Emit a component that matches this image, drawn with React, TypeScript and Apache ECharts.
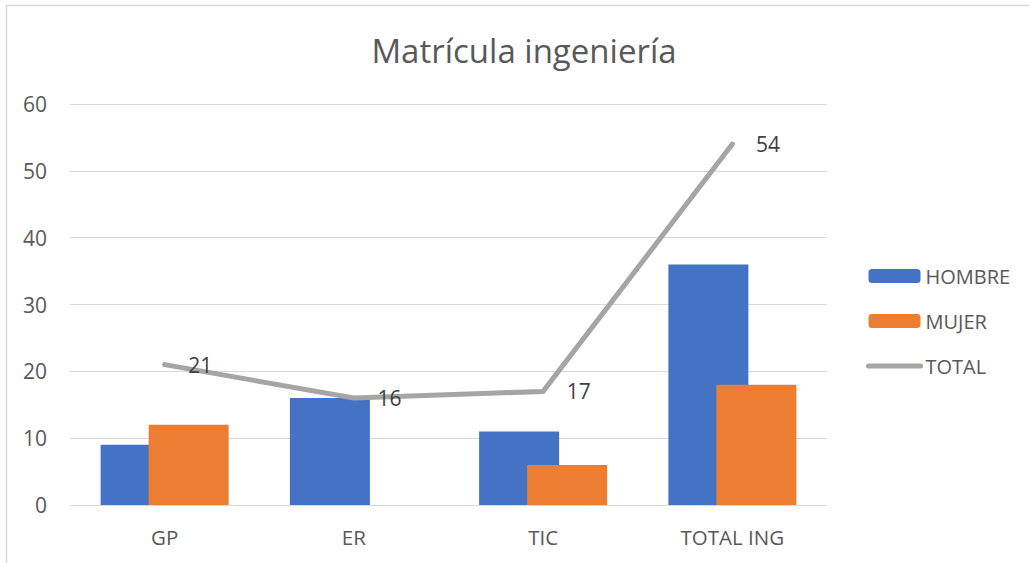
import React, { useEffect, useRef } from "react";
import * as echarts from "echarts";

const categories = ["GP", "ER", "TIC", "TOTAL ING"];
const hombre = [9, 16, 11, 36];
const mujer = [12, 0, 6, 18];
const total = [21, 16, 17, 54];
const yTicks = { min: 0, max: 60, interval: 10 };
const titleText = "Matrícula ingeniería";

const FONT = "'Open Sans', sans-serif";

export default function App() {
  const ref = useRef<HTMLDivElement>(null);
  useEffect(() => {
    const chart = echarts.init(ref.current!, undefined, { renderer: "svg" });
    chart.setOption({
      animation: false,
      backgroundColor: "#ffffff",
      textStyle: { fontFamily: FONT },
      graphic: [
        {
          type: "rect",
          shape: { x: 6.5, y: 5.5, width: 1040, height: 580 },
          style: { fill: "none", stroke: "#d9d9d9", lineWidth: 1.5 },
          silent: true,
        },
        {
          type: "text",
          x: 524,
          y: 50,
          style: {
            text: titleText,
            fontFamily: FONT,
            fontSize: 33,
            fill: "#595959",
            align: "center",
            verticalAlign: "middle",
          },
        },
      ],
      grid: { left: 70, right: 202, top: 104, bottom: 58, containLabel: false },
      legend: {
        orient: "vertical",
        left: 861,
        top: 261,
        itemWidth: 52,
        itemHeight: 14,
        itemGap: 25,
        textStyle: { fontFamily: FONT, fontSize: 20, lineHeight: 20, color: "#595959" },
        data: [
          "HOMBRE",
          "MUJER",
          {
            name: "TOTAL",
            itemStyle: { opacity: 0 },
            lineStyle: { color: "#a5a5a5", width: 5, cap: "round" },
          },
        ],
      },
      xAxis: {
        type: "category",
        data: categories,
        axisLine: { lineStyle: { color: "#d9d9d9" } },
        axisTick: { show: false },
        axisLabel: { fontFamily: FONT, fontSize: 20.5, color: "#595959", margin: 21 },
      },
      yAxis: {
        type: "value",
        min: yTicks.min,
        max: yTicks.max,
        interval: yTicks.interval,
        axisLine: { show: false },
        axisTick: { show: false },
        splitLine: { lineStyle: { color: "#d9d9d9", width: 1 } },
        axisLabel: { fontFamily: FONT, fontSize: 21, color: "#595959", margin: 23 },
      },
      series: [
        {
          name: "HOMBRE",
          type: "bar",
          data: hombre,
          barWidth: 80,
          barGap: "-40%",
          itemStyle: { color: "#4472c4" },
        },
        {
          name: "MUJER",
          type: "bar",
          data: mujer,
          barWidth: 80,
          barGap: "-40%",
          itemStyle: { color: "#ed7d31" },
        },
        {
          name: "TOTAL",
          type: "line",
          data: total,
          symbol: "circle",
          symbolSize: 1,
          showSymbol: true,
          lineStyle: { color: "#a5a5a5", width: 5, cap: "round", join: "round" },
          itemStyle: { color: "rgba(165,165,165,0)" },
          label: {
            show: true,
            position: "right",
            distance: 23,
            fontFamily: FONT,
            fontSize: 21,
            color: "#404040",
          },
          z: 5,
        },
      ],
    });
    return () => chart.dispose();
  }, []);
  return (
    <div
      ref={ref}
      style={{ position: "fixed", left: 0, top: 0, width: 1029, height: 563 }}
    />
  );
}
